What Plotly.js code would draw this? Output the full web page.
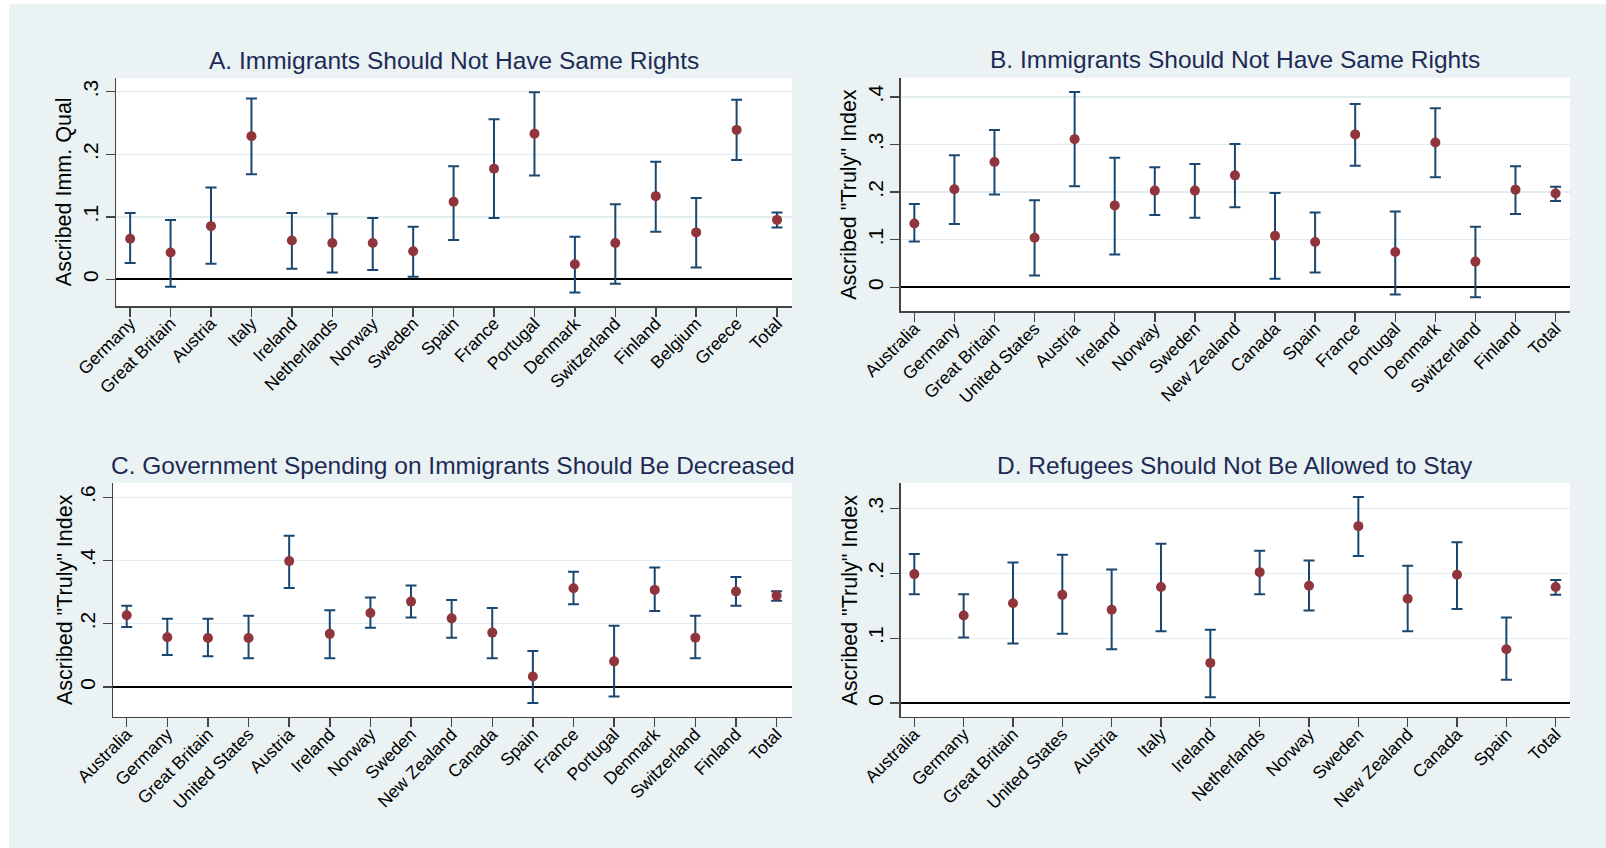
<!DOCTYPE html>
<html><head><meta charset="utf-8">
<script src="https://cdn.plot.ly/plotly-3.0.1.min.js"></script>
<style>html,body{margin:0;padding:0;background:#fff}#chart{width:1606px;height:848px}</style>
</head><body><div id="chart"></div>
<script>
// Panel A
const catsA = ["Germany","Great Britain","Austria","Italy","Ireland","Netherlands","Norway","Sweden","Spain","France","Portugal","Denmark","Switzerland","Finland","Belgium","Greece","Total"];
const ptA = [0.065,0.043,0.085,0.229,0.062,0.058,0.058,0.045,0.124,0.177,0.233,0.024,0.058,0.133,0.075,0.239,0.095];
const loA = [0.026,-0.012,0.025,0.168,0.017,0.011,0.015,0.004,0.063,0.098,0.166,-0.021,-0.007,0.076,0.019,0.191,0.083];
const hiA = [0.106,0.095,0.147,0.289,0.106,0.105,0.098,0.084,0.181,0.256,0.299,0.068,0.120,0.188,0.130,0.287,0.107];
// Panel B
const catsB = ["Australia","Germany","Great Britain","United States","Austria","Ireland","Norway","Sweden","New Zealand","Canada","Spain","France","Portugal","Denmark","Switzerland","Finland","Total"];
const ptB = [0.134,0.206,0.263,0.104,0.311,0.172,0.203,0.203,0.235,0.108,0.095,0.321,0.074,0.304,0.054,0.205,0.197];
const loB = [0.096,0.133,0.195,0.025,0.212,0.069,0.152,0.146,0.168,0.018,0.031,0.255,-0.015,0.231,-0.021,0.154,0.181];
const hiB = [0.175,0.277,0.330,0.183,0.410,0.272,0.252,0.259,0.301,0.198,0.157,0.385,0.159,0.376,0.127,0.254,0.211];
// Panel C
const catsC = ["Australia","Germany","Great Britain","United States","Austria","Ireland","Norway","Sweden","New Zealand","Canada","Spain","France","Portugal","Denmark","Switzerland","Finland","Total"];
const ptC = [0.227,0.157,0.155,0.155,0.398,0.168,0.234,0.270,0.217,0.172,0.033,0.312,0.081,0.307,0.156,0.302,0.289];
const loC = [0.190,0.101,0.097,0.091,0.313,0.091,0.187,0.220,0.156,0.091,-0.051,0.262,-0.030,0.240,0.091,0.257,0.273];
const hiC = [0.257,0.216,0.216,0.225,0.478,0.243,0.283,0.321,0.275,0.250,0.114,0.364,0.194,0.378,0.225,0.348,0.303];
// Panel D
const catsD = ["Australia","Germany","Great Britain","United States","Austria","Italy","Ireland","Netherlands","Norway","Sweden","New Zealand","Canada","Spain","Total"];
const ptD = [0.199,0.135,0.154,0.167,0.144,0.179,0.062,0.202,0.181,0.273,0.161,0.198,0.083,0.179];
const loD = [0.168,0.101,0.092,0.107,0.083,0.111,0.009,0.168,0.143,0.227,0.111,0.145,0.036,0.167];
const hiD = [0.230,0.168,0.217,0.229,0.206,0.246,0.113,0.235,0.220,0.318,0.212,0.248,0.132,0.190];
// Titles and tick labels
const titles = ["A. Immigrants Should Not Have Same Rights","B. Immigrants Should Not Have Same Rights","C. Government Spending on Immigrants Should Be Decreased","D. Refugees Should Not Be Allowed to Stay"];
const yTitles = ["Ascribed Imm. Qual","Ascribed \"Truly\" Index","Ascribed \"Truly\" Index","Ascribed \"Truly\" Index"];
const tickValsA = [0,0.1,0.2,0.3], tickTextA = ["0",".1",".2",".3"];
const tickValsB = [0,0.1,0.2,0.3,0.4], tickTextB = ["0",".1",".2",".3",".4"];
const tickValsC = [0,0.2,0.4,0.6], tickTextC = ["0",".2",".4",".6"];
const tickValsD = [0,0.1,0.2,0.3], tickTextD = ["0",".1",".2",".3"];

const W = 1606, H = 848;
const FONT = "Arial, 'Liberation Sans', sans-serif";
function trace(cats, pt, lo, hi, xa, ya) {
  return {type:'scatter', mode:'markers', x:cats, y:pt, xaxis:xa, yaxis:ya,
    marker:{color:'#90353b', size:10},
    error_y:{type:'data', symmetric:false,
      array: hi.map((h,i)=>h-pt[i]), arrayminus: pt.map((p,i)=>p-lo[i]),
      color:'#1a476f', thickness:2, width:5.5},
    hoverinfo:'skip', showlegend:false, cliponaxis:false};
}
function xax(px0, px1, anchor, range) {
  return {domain:[px0/W, px1/W], anchor:anchor, type:'category', range:range,
    tickangle:-45, ticks:'outside', ticklen:9, tickwidth:1.5, tickcolor:'#444', ticklabelstandoff:-10,
    showline:true, linecolor:'#444', linewidth:1.5, showgrid:false, zeroline:false,
    tickfont:{family:FONT, size:17.5, color:'#000'}, fixedrange:true};
}
function yax(py0, py1, anchor, range, tv, tt) {
  return {domain:[1-py1/H, 1-py0/H], anchor:anchor, range:range, tickvals:tv, ticktext:tt,
    tickangle:-90, ticks:'outside', ticklen:9, tickwidth:1.5, tickcolor:'#444', ticklabelstandoff:-1,
    showline:true, linecolor:'#444', linewidth:1.5, showgrid:true, gridcolor:'#e3ecef', gridwidth:1.5,
    zeroline:true, zerolinecolor:'#000', zerolinewidth:2,
    tickfont:{family:FONT, size:21, color:'#000'}, fixedrange:true};
}
const boxes = [
  {x0:116, x1:792, y0:78.3, y1:306},
  {x0:900.5, x1:1570, y0:77.7, y1:311},
  {x0:113.3, x1:792, y0:482.7, y1:716.7},
  {x0:900.5, x1:1570, y0:482.7, y1:716.7}
];
const data = [
  trace(catsA, ptA, loA, hiA, 'x', 'y'),
  trace(catsB, ptB, loB, hiB, 'x2', 'y2'),
  trace(catsC, ptC, loC, hiC, 'x3', 'y3'),
  trace(catsD, ptD, loD, hiD, 'x4', 'y4')
];
const titleY = [60, 59.7, 465.3, 465.3];
const yTitleX = [64, 849.5, 64.3, 849.8];
const annotations = [];
boxes.forEach((b,i)=>{
  annotations.push({xref:'paper', yref:'paper', x:((b.x0+b.x1)/2)/W, y:1-titleY[i]/H,
    xanchor:'center', yanchor:'middle', showarrow:false, text:titles[i],
    font:{family:FONT, size:24.5, color:'#1c2b55'}});
  annotations.push({xref:'paper', yref:'paper', x:yTitleX[i]/W, y:1-((b.y0+b.y1)/2)/H,
    xanchor:'center', yanchor:'middle', showarrow:false, textangle:-90, text:yTitles[i],
    font:{family:FONT, size:21.5, color:'#000'}});
});
const layout = {
  width:W, height:H, margin:{l:0,r:0,t:0,b:0},
  paper_bgcolor:'#eaf2f3', plot_bgcolor:'#ffffff', showlegend:false,
  xaxis: xax(boxes[0].x0, boxes[0].x1, 'y', [-0.35, 16.37]),
  yaxis: yax(boxes[0].y0, boxes[0].y1, 'x', [-0.0427, 0.3215], tickValsA, tickTextA),
  xaxis2: xax(boxes[1].x0, boxes[1].x1, 'y2', [-0.345, 16.36]),
  yaxis2: yax(boxes[1].y0, boxes[1].y1, 'x2', [-0.0497, 0.44], tickValsB, tickTextB),
  xaxis3: xax(boxes[2].x0, boxes[2].x1, 'y3', [-0.33, 16.38]),
  yaxis3: yax(boxes[2].y0, boxes[2].y1, 'x3', [-0.094, 0.646], tickValsC, tickTextC),
  xaxis4: xax(boxes[3].x0, boxes[3].x1, 'y4', [-0.28, 13.29]),
  yaxis4: yax(boxes[3].y0, boxes[3].y1, 'x4', [-0.021, 0.340], tickValsD, tickTextD),
  annotations: annotations,
  shapes: [
    {type:'rect', xref:'paper', yref:'paper', x0:0, x1:9/W, y0:0, y1:1, fillcolor:'#fff', line:{width:0}, layer:'below'},
    {type:'rect', xref:'paper', yref:'paper', x0:0, x1:1, y0:1-4/H, y1:1, fillcolor:'#fff', line:{width:0}, layer:'below'}
  ]
};
Plotly.newPlot('chart', data, layout, {staticPlot:true, displayModeBar:false});
</script>
</body></html>
